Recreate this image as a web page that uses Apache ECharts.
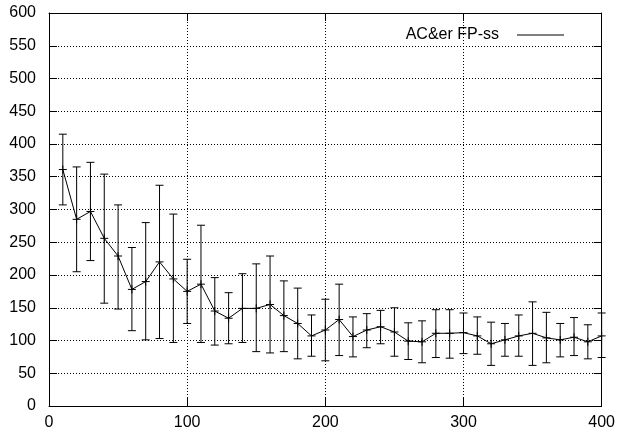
<!DOCTYPE html>
<html><head><meta charset="utf-8">
<script src="https://cdn.jsdelivr.net/npm/echarts@6/dist/echarts.min.js"></script>
<style>html,body{margin:0;padding:0;background:#fff}#c{width:618px;height:436px}</style>
</head><body><div id="c"></div>
<script>
const xs = [10,20,30,40,50,60,70,80,90,100,110,120,130,140,150,160,170,180,190,200,210,220,230,240,250,260,270,280,290,300,310,320,330,340,350,360,370,380,390,400];
const meanVals = [361,285,297,256,229,178,190,220,194,175,186,145,134,149,149,155,138,126,107,116,132,106,116,121,113,99,98,111,111,112,107,95,101,107,111,104,101,105,98,107];
const lowVals = [307,205,222,157,148,115,101,103,97,126,97,93,95,97,83,81,83,72,76,69,77,75,89,95,76,71,66,74,73,80,79,62,76,76,62,66,75,77,72,74];
const highVals = [415,365,372,354,307,242,280,337,293,224,276,196,173,202,217,229,191,180,139,163,186,136,141,146,150,127,130,147,147,142,136,128,126,139,159,143,126,135,124,142];
const seriesName = 'AC&er FP-ss';

const lineData = xs.map((x, i) => [x, meanVals[i]]);
const errData = xs.map((x, i) => [x, lowVals[i], highVals[i], meanVals[i]]);

const font = 'Liberation Sans, Arial, Helvetica, sans-serif';
const chart = echarts.init(document.getElementById('c'), null, {renderer: 'canvas'});
const axisCommon = {
  type: 'value',
  axisLine: {show: true, onZero: false, lineStyle: {color: '#000', width: 1}},
  axisTick: {show: true, inside: true, length: 8, lineStyle: {color: '#000'}},
  axisLabel: {color: '#000', fontFamily: font, fontSize: 16},
};
chart.setOption({
  animation: false,
  grid: {left: 49, right: 16, top: 13, bottom: 30, show: false},
  legend: {
    show: true,
    right: 49, top: 22,
    align: 'right',
    icon: 'rect',
    itemWidth: 47, itemHeight: 1,
    textStyle: {color: '#000', fontFamily: font, fontSize: 16, padding: [0, 13, 0, 0]},
    data: [{name: seriesName, itemStyle: {color: '#000'}}]
  },
  xAxis: [
    Object.assign({}, axisCommon, {
      min: 0, max: 400, interval: 100, position: 'bottom',
      axisLabel: Object.assign({}, axisCommon.axisLabel, {margin: 9}),
      splitLine: {show: true, lineStyle: {color: '#000', type: [1, 2], width: 1}}
    }),
    Object.assign({}, axisCommon, {
      min: 0, max: 400, interval: 100, position: 'top',
      axisLabel: {show: false}, splitLine: {show: false}
    })
  ],
  yAxis: [
    Object.assign({}, axisCommon, {
      min: 0, max: 600, interval: 50, position: 'left',
      axisLabel: Object.assign({}, axisCommon.axisLabel, {margin: 13}),
      splitLine: {show: true, lineStyle: {color: '#000', type: [1, 2], width: 1}}
    }),
    Object.assign({}, axisCommon, {
      min: 0, max: 600, interval: 50, position: 'right',
      axisLabel: {show: false}, splitLine: {show: false}
    })
  ],
  series: [
    {
      name: seriesName,
      type: 'line',
      data: lineData,
      showSymbol: false,
      symbol: 'none',
      lineStyle: {color: '#000', width: 1},
      itemStyle: {color: '#000'},
      z: 3
    },
    {
      name: 'err',
      type: 'custom',
      data: errData,
      z: 4,
      renderItem: function (params, api) {
        const x = api.value(0);
        const pLow = api.coord([x, api.value(1)]);
        const pHigh = api.coord([x, api.value(2)]);
        const pMid = api.coord([x, api.value(3)]);
        const cap = 4, m = 4;
        const st = {stroke: '#000', lineWidth: 1};
        return {
          type: 'group',
          children: [
            {type: 'line', shape: {x1: pLow[0], y1: pLow[1], x2: pHigh[0], y2: pHigh[1]}, style: st},
            {type: 'line', shape: {x1: pLow[0] - cap, y1: pLow[1], x2: pLow[0] + cap, y2: pLow[1]}, style: st},
            {type: 'line', shape: {x1: pHigh[0] - cap, y1: pHigh[1], x2: pHigh[0] + cap, y2: pHigh[1]}, style: st},
            {type: 'line', shape: {x1: pMid[0] - m, y1: pMid[1], x2: pMid[0] + m, y2: pMid[1]}, style: st},
            {type: 'line', shape: {x1: pMid[0], y1: pMid[1] - m, x2: pMid[0], y2: pMid[1] + m}, style: st}
          ]
        };
      }
    }
  ]
});
</script>
</body></html>
